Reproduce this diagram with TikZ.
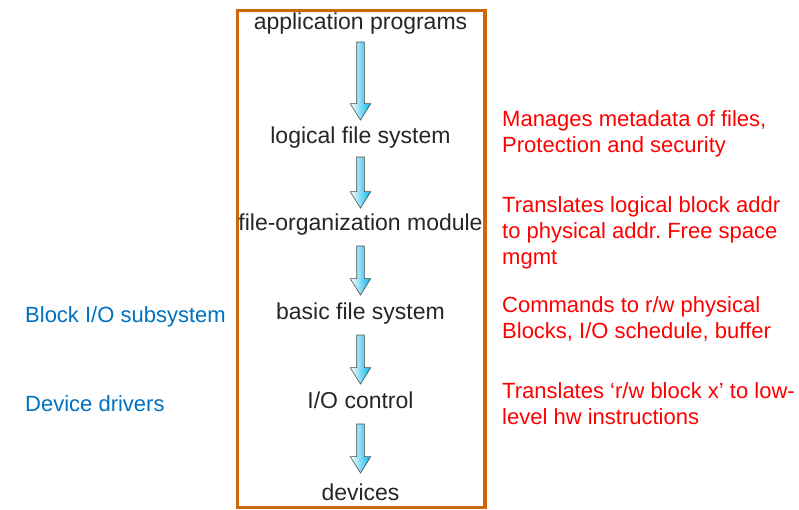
\documentclass[tikz,border=0pt]{standalone}
\usepackage{fontspec}
\setmainfont{Liberation Sans}
\usepackage{tikz}
\usetikzlibrary{shapes.arrows}

\definecolor{framebrown}{RGB}{204,104,10}
\definecolor{arrowblue}{RGB}{0,182,235}
\definecolor{noteblue}{RGB}{0,112,192}
\definecolor{notered}{RGB}{255,0,0}

\begin{document}
\begin{tikzpicture}[x=1pt, y=-1pt]
	\tikzset{
		layer/.style = {anchor=base, inner sep=0pt, text=black!85, font=\fontsize{23}{27}\selectfont},
		note/.style = {anchor=base west, inner sep=0pt, align=left, text=notered, font=\fontsize{22}{26}\selectfont},
		side/.style = {anchor=base west, inner sep=0pt, text=noteblue, font=\fontsize{22}{26}\selectfont},
		flow/.style = {single arrow, rotate=-90, draw=black!70, line width=0.6pt,
			left color=white, right color=arrowblue, inner sep=3.5pt,
			single arrow head extend=6.5pt, single arrow tip angle=64, minimum width=20pt},
		framebox/.style = {rectangle, draw=framebrown, line width=3.3pt, inner sep=0pt}
	}
	\useasboundingbox (0,0) rectangle (799,510);
	\node[framebox, minimum width=247.5pt, minimum height=497pt] (stack) at (361.25,259) {};
	% layers
	\node[layer] (app) at (360.5,30) {application programs};
	\node[layer] (lfs) at (360.5,144) {logical file system};
	\node[layer] (fom) at (360.5,230.5) {file-organization module};
	\node[layer] (bfs) at (360.5,319.5) {basic file system};
	\node[layer] (ioc) at (360.5,408.5) {I/O control};
	\node[layer] (dev) at (360.5,500) {devices};
	% arrows between layers
	\node[flow, minimum height=78pt] (a1) at (360.5,78) {};
	\node[flow, minimum height=51pt] (a2) at (360.5,179.5) {};
	\node[flow, minimum height=49pt] (a3) at (360.5,267.5) {};
	\node[flow, minimum height=49pt] (a4) at (360.5,356.5) {};
	\node[flow, minimum height=49pt] (a5) at (360.5,445.5) {};
	% notes (anchored on their last line)
	\node[note] (n1) at (502,153) {Manages metadata of files,\\Protection and security};
	\node[note] (n2) at (502,265) {Translates logical block addr\\to physical addr.\ Free space\\mgmt};
	\node[note] (n3) at (502,338) {Commands to r/w physical\\Blocks, I/O schedule, buffer};
	\node[note] (n4) at (502,424.5) {Translates ‘r/w block x’ to low-\\level hw instructions};
	\node[side] (bio) at (25,322) {Block I/O subsystem};
	\node[side] (drv) at (25,411.5) {Device drivers};
\end{tikzpicture}
\end{document}
